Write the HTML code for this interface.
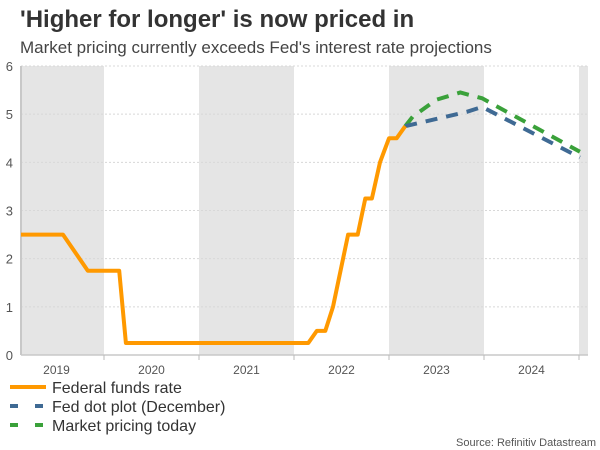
<!DOCTYPE html>
<html><head><meta charset="utf-8"><style>
body{margin:0;background:#fff;width:600px;height:450px;overflow:hidden}
svg{display:block;font-family:"Liberation Sans",Arial,sans-serif}
</style></head><body>
<svg id="chart" width="600" height="450">
<text x="20" y="27" font-size="24" font-weight="bold" fill="#333">'Higher for longer' is now priced in</text>
<text x="20" y="53" font-size="17" fill="#444">Market pricing currently exceeds Fed's interest rate projections</text>
<g id="bands"></g><g id="grid"></g><g id="axes"></g><g id="series"></g>
<g>
<line x1="10" y1="387" x2="46" y2="387" stroke="#ff9900" stroke-width="4"/>
<text x="52" y="393" font-size="16" fill="#333">Federal funds rate</text>
<line x1="10" y1="406" x2="46" y2="406" stroke="#3f6a94" stroke-width="4" stroke-dasharray="8,17"/>
<text x="52" y="412" font-size="16" fill="#333">Fed dot plot (December)</text>
<line x1="10" y1="425" x2="46" y2="425" stroke="#3aa13a" stroke-width="4" stroke-dasharray="8,17"/>
<text x="52" y="431" font-size="16" fill="#333">Market pricing today</text>
</g>
<text x="596" y="446" font-size="11" fill="#555" text-anchor="end">Source: Refinitiv Datastream</text>
</svg>
<script>
const yTicks=[0,1,2,3,4,5,6];
const years=[2019,2020,2021,2022,2023,2024];
const fedT=[2019.126,2019.568,2019.83,2020.16,2020.23,2022.15,2022.24,2022.33,2022.41,2022.57,2022.67,2022.75,2022.82,2022.905,2023.0,2023.08,2023.17];
const fedV=[2.5,2.5,1.75,1.75,0.25,0.25,0.5,0.5,1.0,2.5,2.5,3.25,3.25,4.0,4.5,4.5,4.75];
const dotT=[2023.17,2023.82,2023.98,2025.01];
const dotV=[4.75,5.05,5.15,4.1];
const mktT=[2023.17,2023.25,2023.5,2023.75,2023.98,2025.01];
const mktV=[4.75,4.95,5.3,5.45,5.33,4.22];
const NS='http://www.w3.org/2000/svg';
const X0=21,X1=588,Y0=355,YTOP=66;
const xs=t=>104+(t-2020)*95;
const ys=v=>Y0-(v/6)*(Y0-YTOP);
function mk(tag,attrs,parent){const e=document.createElementNS(NS,tag);for(const k in attrs)e.setAttribute(k,attrs[k]);document.getElementById(parent).appendChild(e);return e;}
for(let y=2019;y<=2025;y+=2){
 const a=Math.max(X0,xs(y)),b=Math.min(X1,xs(y+1));
 const r=mk('rect',{x:a,y:YTOP,width:b-a,height:Y0-YTOP,fill:'#e5e5e5'},'bands');
 
 
}
yTicks.forEach(v=>{
 const l=mk('line',{x1:X0,x2:X1,y1:ys(v),y2:ys(v),stroke:'#d8d8d8','stroke-dasharray':'2,2'},'grid');
 
 
 const t=mk('text',{x:13,y:ys(v)+5,'font-size':13,fill:'#555','text-anchor':'end'},'axes');
 t.textContent=v;
 
 
});
const ax=mk('line',{x1:X0,x2:X0,y1:YTOP,y2:Y0,stroke:'#c8c8c8','stroke-width':2},'axes');


const bx=mk('line',{x1:X0,x2:X1,y1:Y0,y2:Y0,stroke:'#c8c8c8','stroke-width':1.5},'axes');


years.forEach(y=>{
 const tk=mk('line',{x1:xs(y+1),x2:xs(y+1),y1:Y0,y2:Y0+5,stroke:'#bbb'},'axes');
 
 
 const t=mk('text',{x:xs(y+0.5),y:374,'font-size':12,fill:'#555','text-anchor':'middle'},'axes');
 t.textContent=y;
 
 
});
function path(T,V){return T.map((t,i)=>(i?'L':'M')+xs(t).toFixed(1)+','+ys(V[i]).toFixed(1)).join(' ');}
const pm=mk('path',{d:path(mktT,mktV),fill:'none',stroke:'#3aa13a','stroke-width':4,'stroke-dasharray':'12,9'},'series');


const pd=mk('path',{d:path(dotT,dotV),fill:'none',stroke:'#3f6a94','stroke-width':4,'stroke-dasharray':'12,9'},'series');


const pf=mk('path',{d:path(fedT,fedV),fill:'none',stroke:'#ff9900','stroke-width':4,'stroke-linejoin':'round'},'series');


</script>
</body></html>
